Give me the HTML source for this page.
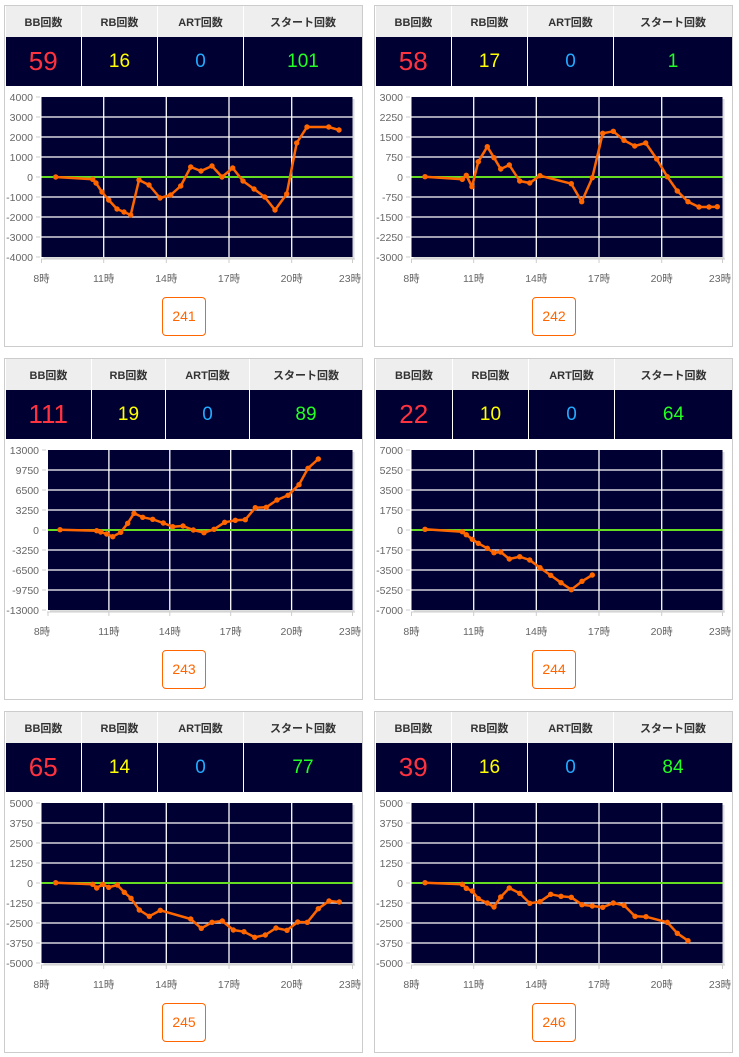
<!DOCTYPE html>
<html><head><meta charset="utf-8">
<style>
body{margin:0;background:#fff;width:739px;height:1057px;position:relative;overflow:hidden;font-family:"Liberation Sans","Noto Sans CJK JP",sans-serif}
.p{position:absolute;width:357px;height:340px;border:1px solid #ccc;background:#fff}
table{position:absolute;left:0;top:0;width:357px;border-collapse:collapse;table-layout:fixed}
td{text-align:center;padding:0;border-left:1px solid #fff}
td:first-child{border-left:none}
tr.h td{height:31px;background:#eeeeee;font-size:11px;font-weight:bold;color:#333;border-left:1px solid #fff}
tr.v td{height:49px;background:#000033;font-size:19px}
.r{color:#ff3340;font-size:26px!important}.y{color:#ffff00}.c{color:#22aaff}.g{color:#22ff22}
.b{position:absolute;left:157px;top:291px;width:42px;height:37px;border:1px solid #ff6600;border-radius:4px;color:#ff6600;font-size:14px;line-height:37px;text-align:center}
svg{position:absolute;left:0;top:0}
.yl{font-size:10.5px;fill:#666;text-anchor:end}
.xl{font-size:10.5px;fill:#666;text-anchor:middle}
.s{fill:none;stroke:#ff6600;stroke-width:2.5;stroke-linejoin:round}
</style></head><body>

<div class="p" style="left:4px;top:5px"><table><colgroup><col style="width:76px"><col style="width:76px"><col style="width:86px"><col></colgroup>
<tr class="h"><td>BB回数</td><td>RB回数</td><td>ART回数</td><td>スタート回数</td></tr>
<tr class="v"><td class="r">59</td><td class="y">16</td><td class="c">0</td><td class="g">101</td></tr></table><div class="b">241</div></div>

<div class="p" style="left:374px;top:5px"><table><colgroup><col style="width:76px"><col style="width:76px"><col style="width:86px"><col></colgroup>
<tr class="h"><td>BB回数</td><td>RB回数</td><td>ART回数</td><td>スタート回数</td></tr>
<tr class="v"><td class="r">58</td><td class="y">17</td><td class="c">0</td><td class="g">1</td></tr></table><div class="b">242</div></div>

<div class="p" style="left:4px;top:358px"><table><colgroup><col style="width:86px"><col style="width:74px"><col style="width:84px"><col></colgroup>
<tr class="h"><td>BB回数</td><td>RB回数</td><td>ART回数</td><td>スタート回数</td></tr>
<tr class="v"><td class="r">111</td><td class="y">19</td><td class="c">0</td><td class="g">89</td></tr></table><div class="b">243</div></div>

<div class="p" style="left:374px;top:358px"><table><colgroup><col style="width:77px"><col style="width:76px"><col style="width:86px"><col></colgroup>
<tr class="h"><td>BB回数</td><td>RB回数</td><td>ART回数</td><td>スタート回数</td></tr>
<tr class="v"><td class="r">22</td><td class="y">10</td><td class="c">0</td><td class="g">64</td></tr></table><div class="b">244</div></div>

<div class="p" style="left:4px;top:711px"><table><colgroup><col style="width:76px"><col style="width:76px"><col style="width:86px"><col></colgroup>
<tr class="h"><td>BB回数</td><td>RB回数</td><td>ART回数</td><td>スタート回数</td></tr>
<tr class="v"><td class="r">65</td><td class="y">14</td><td class="c">0</td><td class="g">77</td></tr></table><div class="b">245</div></div>

<div class="p" style="left:374px;top:711px"><table><colgroup><col style="width:76px"><col style="width:76px"><col style="width:86px"><col></colgroup>
<tr class="h"><td>BB回数</td><td>RB回数</td><td>ART回数</td><td>スタート回数</td></tr>
<tr class="v"><td class="r">39</td><td class="y">16</td><td class="c">0</td><td class="g">84</td></tr></table><div class="b">246</div></div>

<svg width="739" height="1057" viewBox="0 0 739 1057">
<defs>
<g id="grid">
<rect x="43.5" y="99" width="311" height="160" fill="#ddd"/>
<rect x="41.5" y="97" width="311" height="160" fill="#000033"/>
<g stroke="#fff" stroke-width="1.3">
<line x1="41.5" x2="352.5" y1="117" y2="117"/><line x1="41.5" x2="352.5" y1="137" y2="137"/><line x1="41.5" x2="352.5" y1="157" y2="157"/><line x1="41.5" x2="352.5" y1="197" y2="197"/><line x1="41.5" x2="352.5" y1="217" y2="217"/><line x1="41.5" x2="352.5" y1="237" y2="237"/>
<line x1="103.7" x2="103.7" y1="97" y2="257"/><line x1="166.3" x2="166.3" y1="97" y2="257"/><line x1="229" x2="229" y1="97" y2="257"/><line x1="291.7" x2="291.7" y1="97" y2="257"/>
</g>
<line x1="41.5" x2="352.5" y1="177" y2="177" stroke="#66dd22" stroke-width="2"/>
<g stroke="#ccc" stroke-width="1"><line x1="41" x2="355" y1="259" y2="259"/>
<line x1="41.5" x2="41.5" y1="259" y2="263"/><line x1="103.7" x2="103.7" y1="259" y2="263"/><line x1="166.3" x2="166.3" y1="259" y2="263"/><line x1="229" x2="229" y1="259" y2="263"/><line x1="291.7" x2="291.7" y1="259" y2="263"/><line x1="352.5" x2="352.5" y1="259" y2="263"/>
<line x1="36" x2="40" y1="97" y2="97"/><line x1="36" x2="40" y1="117" y2="117"/><line x1="36" x2="40" y1="137" y2="137"/><line x1="36" x2="40" y1="157" y2="157"/><line x1="36" x2="40" y1="177" y2="177"/><line x1="36" x2="40" y1="197" y2="197"/><line x1="36" x2="40" y1="217" y2="217"/><line x1="36" x2="40" y1="237" y2="237"/><line x1="36" x2="40" y1="257" y2="257"/></g>
</g>
<g id="grid3">
<rect x="50" y="99" width="304.5" height="160" fill="#ddd"/>
<rect x="48" y="97" width="304.5" height="160" fill="#000033"/>
<g stroke="#fff" stroke-width="1.3">
<line x1="48" x2="352.5" y1="117" y2="117"/><line x1="48" x2="352.5" y1="137" y2="137"/><line x1="48" x2="352.5" y1="157" y2="157"/><line x1="48" x2="352.5" y1="197" y2="197"/><line x1="48" x2="352.5" y1="217" y2="217"/><line x1="48" x2="352.5" y1="237" y2="237"/>
<line x1="108.9" x2="108.9" y1="97" y2="257"/><line x1="169.8" x2="169.8" y1="97" y2="257"/><line x1="230.7" x2="230.7" y1="97" y2="257"/><line x1="291.6" x2="291.6" y1="97" y2="257"/>
</g>
<line x1="48" x2="352.5" y1="177" y2="177" stroke="#66dd22" stroke-width="2"/>
<g stroke="#ccc" stroke-width="1"><line x1="47" x2="355" y1="259" y2="259"/>
<line x1="48" x2="48" y1="259" y2="263"/><line x1="108.9" x2="108.9" y1="259" y2="263"/><line x1="169.8" x2="169.8" y1="259" y2="263"/><line x1="230.7" x2="230.7" y1="259" y2="263"/><line x1="291.6" x2="291.6" y1="259" y2="263"/><line x1="352.5" x2="352.5" y1="259" y2="263"/></g>
</g>
</defs>

<!-- P1 -->
<g>
<use href="#grid"/>
<text class="yl" x="33" y="101">4000</text><text class="yl" x="33" y="121">3000</text><text class="yl" x="33" y="141">2000</text><text class="yl" x="33" y="161">1000</text><text class="yl" x="33" y="181">0</text><text class="yl" x="33" y="201">-1000</text><text class="yl" x="33" y="221">-2000</text><text class="yl" x="33" y="241">-3000</text><text class="yl" x="33" y="261">-4000</text>
<text class="xl" x="41.5" y="282">8時</text><text class="xl" x="103.7" y="282">11時</text><text class="xl" x="166.3" y="282">14時</text><text class="xl" x="229" y="282">17時</text><text class="xl" x="291.7" y="282">20時</text><text class="xl" x="350" y="282">23時</text>
<polyline class="s" points="55.7,177 92.7,179.3 96,183 102,192 108.7,200 117,209 124,212 130.7,215 139,180 149,185 160,198 170.7,195 180.7,186 190.7,167 201,171 212,166 222,177 232.7,168 243,181 254,189 264.7,197 275,210 286.7,194 296.7,143 307,127 328.7,127 339,130"/>
<g fill="#ff6600"><circle cx="55.7" cy="177" r="2.7"/><circle cx="92.7" cy="179.3" r="2.7"/><circle cx="96" cy="183" r="2.7"/><circle cx="102" cy="192" r="2.7"/><circle cx="108.7" cy="200" r="2.7"/><circle cx="117" cy="209" r="2.7"/><circle cx="124" cy="212" r="2.7"/><circle cx="130.7" cy="215" r="2.7"/><circle cx="139" cy="180" r="2.7"/><circle cx="149" cy="185" r="2.7"/><circle cx="160" cy="198" r="2.7"/><circle cx="170.7" cy="195" r="2.7"/><circle cx="180.7" cy="186" r="2.7"/><circle cx="190.7" cy="167" r="2.7"/><circle cx="201" cy="171" r="2.7"/><circle cx="212" cy="166" r="2.7"/><circle cx="222" cy="177" r="2.7"/><circle cx="232.7" cy="168" r="2.7"/><circle cx="243" cy="181" r="2.7"/><circle cx="254" cy="189" r="2.7"/><circle cx="264.7" cy="197" r="2.7"/><circle cx="275" cy="210" r="2.7"/><circle cx="286.7" cy="194" r="2.7"/><circle cx="296.7" cy="143" r="2.7"/><circle cx="307" cy="127" r="2.7"/><circle cx="328.7" cy="127" r="2.7"/><circle cx="339" cy="130" r="2.7"/></g>
</g>

<!-- P2 -->
<g transform="translate(370,0)">
<use href="#grid"/>
<text class="yl" x="33" y="101">3000</text><text class="yl" x="33" y="121">2250</text><text class="yl" x="33" y="141">1500</text><text class="yl" x="33" y="161">750</text><text class="yl" x="33" y="181">0</text><text class="yl" x="33" y="201">-750</text><text class="yl" x="33" y="221">-1500</text><text class="yl" x="33" y="241">-2250</text><text class="yl" x="33" y="261">-3000</text>
<text class="xl" x="41.5" y="282">8時</text><text class="xl" x="103.7" y="282">11時</text><text class="xl" x="166.3" y="282">14時</text><text class="xl" x="229" y="282">17時</text><text class="xl" x="291.7" y="282">20時</text><text class="xl" x="350" y="282">23時</text>
<polyline class="s" points="55,176.7 92.3,179.3 96.3,175.3 102,186.7 108.3,161.7 117.3,146.7 124,157.7 130.7,169 139.3,165 149.7,181 159.7,183 170,175.7 201.3,183.7 211.7,201.7 222.3,177.7 232.7,133.3 243.3,131.3 254,140.3 264.7,146 275.7,143 286.7,159 297.3,176.7 307.3,191 318,201.7 329,207 339,207 347.3,206.7"/>
<g fill="#ff6600"><circle cx="55" cy="176.7" r="2.7"/><circle cx="92.3" cy="179.3" r="2.7"/><circle cx="96.3" cy="175.3" r="2.7"/><circle cx="102" cy="186.7" r="2.7"/><circle cx="108.3" cy="161.7" r="2.7"/><circle cx="117.3" cy="146.7" r="2.7"/><circle cx="124" cy="157.7" r="2.7"/><circle cx="130.7" cy="169" r="2.7"/><circle cx="139.3" cy="165" r="2.7"/><circle cx="149.7" cy="181" r="2.7"/><circle cx="159.7" cy="183" r="2.7"/><circle cx="170" cy="175.7" r="2.7"/><circle cx="201.3" cy="183.7" r="2.7"/><circle cx="211.7" cy="201.7" r="2.7"/><circle cx="222.3" cy="177.7" r="2.7"/><circle cx="232.7" cy="133.3" r="2.7"/><circle cx="243.3" cy="131.3" r="2.7"/><circle cx="254" cy="140.3" r="2.7"/><circle cx="264.7" cy="146" r="2.7"/><circle cx="275.7" cy="143" r="2.7"/><circle cx="286.7" cy="159" r="2.7"/><circle cx="297.3" cy="176.7" r="2.7"/><circle cx="307.3" cy="191" r="2.7"/><circle cx="318" cy="201.7" r="2.7"/><circle cx="329" cy="207" r="2.7"/><circle cx="339" cy="207" r="2.7"/><circle cx="347.3" cy="206.7" r="2.7"/></g>
</g>

<!-- P3 -->
<g transform="translate(0,353)">
<use href="#grid3"/>
<g stroke="#ccc"><line x1="42" x2="46" y1="97" y2="97"/><line x1="42" x2="46" y1="117" y2="117"/><line x1="42" x2="46" y1="137" y2="137"/><line x1="42" x2="46" y1="157" y2="157"/><line x1="42" x2="46" y1="177" y2="177"/><line x1="42" x2="46" y1="197" y2="197"/><line x1="42" x2="46" y1="217" y2="217"/><line x1="42" x2="46" y1="237" y2="237"/><line x1="42" x2="46" y1="257" y2="257"/></g>
<text class="yl" x="39" y="101">13000</text><text class="yl" x="39" y="121">9750</text><text class="yl" x="39" y="141">6500</text><text class="yl" x="39" y="161">3250</text><text class="yl" x="39" y="181">0</text><text class="yl" x="39" y="201">-3250</text><text class="yl" x="39" y="221">-6500</text><text class="yl" x="39" y="241">-9750</text><text class="yl" x="39" y="261">-13000</text>
<text class="xl" x="42" y="282">8時</text><text class="xl" x="108.9" y="282">11時</text><text class="xl" x="169.8" y="282">14時</text><text class="xl" x="230.7" y="282">17時</text><text class="xl" x="291.6" y="282">20時</text><text class="xl" x="350" y="282">23時</text>
<polyline class="s" points="60,176.7 96.7,177.7 100.7,179 106.7,181 112.7,183.7 120.7,179.3 127.7,170.3 134,160.3 142.7,164.3 152.7,166.3 163.3,170 172.7,173.7 183,173 193.3,177 204,179.7 214,176.3 224.7,169.3 235.3,167.3 245.3,166.7 255.3,154.7 266.3,154.3 277,147 288,142.3 299,131.7 308,115.3 318.3,106"/>
<g fill="#ff6600"><circle cx="60" cy="176.7" r="2.7"/><circle cx="96.7" cy="177.7" r="2.7"/><circle cx="100.7" cy="179" r="2.7"/><circle cx="106.7" cy="181" r="2.7"/><circle cx="112.7" cy="183.7" r="2.7"/><circle cx="120.7" cy="179.3" r="2.7"/><circle cx="127.7" cy="170.3" r="2.7"/><circle cx="134" cy="160.3" r="2.7"/><circle cx="142.7" cy="164.3" r="2.7"/><circle cx="152.7" cy="166.3" r="2.7"/><circle cx="163.3" cy="170" r="2.7"/><circle cx="172.7" cy="173.7" r="2.7"/><circle cx="183" cy="173" r="2.7"/><circle cx="193.3" cy="177" r="2.7"/><circle cx="204" cy="179.7" r="2.7"/><circle cx="214" cy="176.3" r="2.7"/><circle cx="224.7" cy="169.3" r="2.7"/><circle cx="235.3" cy="167.3" r="2.7"/><circle cx="245.3" cy="166.7" r="2.7"/><circle cx="255.3" cy="154.7" r="2.7"/><circle cx="266.3" cy="154.3" r="2.7"/><circle cx="277" cy="147" r="2.7"/><circle cx="288" cy="142.3" r="2.7"/><circle cx="299" cy="131.7" r="2.7"/><circle cx="308" cy="115.3" r="2.7"/><circle cx="318.3" cy="106" r="2.7"/></g>
</g>

<!-- P4 -->
<g transform="translate(370,353)">
<use href="#grid"/>
<text class="yl" x="33" y="101">7000</text><text class="yl" x="33" y="121">5250</text><text class="yl" x="33" y="141">3500</text><text class="yl" x="33" y="161">1750</text><text class="yl" x="33" y="181">0</text><text class="yl" x="33" y="201">-1750</text><text class="yl" x="33" y="221">-3500</text><text class="yl" x="33" y="241">-5250</text><text class="yl" x="33" y="261">-7000</text>
<text class="xl" x="41.5" y="282">8時</text><text class="xl" x="103.7" y="282">11時</text><text class="xl" x="166.3" y="282">14時</text><text class="xl" x="229" y="282">17時</text><text class="xl" x="291.7" y="282">20時</text><text class="xl" x="350" y="282">23時</text>
<polyline class="s" points="55,176.3 92.3,178.7 96.3,181.7 102.3,186.3 108.3,190.3 117.3,195.3 124,199.7 130.7,199 139.3,206 149.7,203.7 159.7,207 170,214.7 180.7,222.3 191,229.7 201.3,236.7 212,228.3 222.3,222"/>
<g fill="#ff6600"><circle cx="55" cy="176.3" r="2.7"/><circle cx="92.3" cy="178.7" r="2.7"/><circle cx="96.3" cy="181.7" r="2.7"/><circle cx="102.3" cy="186.3" r="2.7"/><circle cx="108.3" cy="190.3" r="2.7"/><circle cx="117.3" cy="195.3" r="2.7"/><circle cx="124" cy="199.7" r="2.7"/><circle cx="130.7" cy="199" r="2.7"/><circle cx="139.3" cy="206" r="2.7"/><circle cx="149.7" cy="203.7" r="2.7"/><circle cx="159.7" cy="207" r="2.7"/><circle cx="170" cy="214.7" r="2.7"/><circle cx="180.7" cy="222.3" r="2.7"/><circle cx="191" cy="229.7" r="2.7"/><circle cx="201.3" cy="236.7" r="2.7"/><circle cx="212" cy="228.3" r="2.7"/><circle cx="222.3" cy="222" r="2.7"/></g>
</g>

<!-- P5 -->
<g transform="translate(0,706)">
<use href="#grid"/>
<text class="yl" x="33" y="101">5000</text><text class="yl" x="33" y="121">3750</text><text class="yl" x="33" y="141">2500</text><text class="yl" x="33" y="161">1250</text><text class="yl" x="33" y="181">0</text><text class="yl" x="33" y="201">-1250</text><text class="yl" x="33" y="221">-2500</text><text class="yl" x="33" y="241">-3750</text><text class="yl" x="33" y="261">-5000</text>
<text class="xl" x="41.5" y="282">8時</text><text class="xl" x="103.7" y="282">11時</text><text class="xl" x="166.3" y="282">14時</text><text class="xl" x="229" y="282">17時</text><text class="xl" x="291.7" y="282">20時</text><text class="xl" x="350" y="282">23時</text>
<polyline class="s" points="55.7,176.7 92.7,178.3 96.7,182 102.7,178.3 108.7,181.3 117.3,179 124.3,186.3 131,192.3 139.3,204 149.3,210.3 160.3,204.3 190.7,213 201.3,222.3 212,216.3 222.3,215 233.3,224 244,225.7 254.7,231.3 265.3,229 276,222 287,224.3 297.7,216 307.3,216.3 318.3,202.7 329,195 339.3,196"/>
<g fill="#ff6600"><circle cx="55.7" cy="176.7" r="2.7"/><circle cx="92.7" cy="178.3" r="2.7"/><circle cx="96.7" cy="182" r="2.7"/><circle cx="102.7" cy="178.3" r="2.7"/><circle cx="108.7" cy="181.3" r="2.7"/><circle cx="117.3" cy="179" r="2.7"/><circle cx="124.3" cy="186.3" r="2.7"/><circle cx="131" cy="192.3" r="2.7"/><circle cx="139.3" cy="204" r="2.7"/><circle cx="149.3" cy="210.3" r="2.7"/><circle cx="160.3" cy="204.3" r="2.7"/><circle cx="190.7" cy="213" r="2.7"/><circle cx="201.3" cy="222.3" r="2.7"/><circle cx="212" cy="216.3" r="2.7"/><circle cx="222.3" cy="215" r="2.7"/><circle cx="233.3" cy="224" r="2.7"/><circle cx="244" cy="225.7" r="2.7"/><circle cx="254.7" cy="231.3" r="2.7"/><circle cx="265.3" cy="229" r="2.7"/><circle cx="276" cy="222" r="2.7"/><circle cx="287" cy="224.3" r="2.7"/><circle cx="297.7" cy="216" r="2.7"/><circle cx="307.3" cy="216.3" r="2.7"/><circle cx="318.3" cy="202.7" r="2.7"/><circle cx="329" cy="195" r="2.7"/><circle cx="339.3" cy="196" r="2.7"/></g>
</g>

<!-- P6 -->
<g transform="translate(370,706)">
<use href="#grid"/>
<text class="yl" x="33" y="101">5000</text><text class="yl" x="33" y="121">3750</text><text class="yl" x="33" y="141">2500</text><text class="yl" x="33" y="161">1250</text><text class="yl" x="33" y="181">0</text><text class="yl" x="33" y="201">-1250</text><text class="yl" x="33" y="221">-2500</text><text class="yl" x="33" y="241">-3750</text><text class="yl" x="33" y="261">-5000</text>
<text class="xl" x="41.5" y="282">8時</text><text class="xl" x="103.7" y="282">11時</text><text class="xl" x="166.3" y="282">14時</text><text class="xl" x="229" y="282">17時</text><text class="xl" x="291.7" y="282">20時</text><text class="xl" x="350" y="282">23時</text>
<polyline class="s" points="55,176.7 92.3,178.3 96.3,182.3 102.3,185 108.3,192.7 117.3,197 124,201 130.7,191 139.3,182 149.7,187.3 159.7,197.3 170,195.7 180.7,188.3 191,190.3 201.3,191.3 212,198.7 222.3,200 232.7,201.3 243.3,197 254,199.3 265,210.3 276,210.7 297.3,216.3 307.3,227.3 318,234.7"/>
<g fill="#ff6600"><circle cx="55" cy="176.7" r="2.7"/><circle cx="92.3" cy="178.3" r="2.7"/><circle cx="96.3" cy="182.3" r="2.7"/><circle cx="102.3" cy="185" r="2.7"/><circle cx="108.3" cy="192.7" r="2.7"/><circle cx="117.3" cy="197" r="2.7"/><circle cx="124" cy="201" r="2.7"/><circle cx="130.7" cy="191" r="2.7"/><circle cx="139.3" cy="182" r="2.7"/><circle cx="149.7" cy="187.3" r="2.7"/><circle cx="159.7" cy="197.3" r="2.7"/><circle cx="170" cy="195.7" r="2.7"/><circle cx="180.7" cy="188.3" r="2.7"/><circle cx="191" cy="190.3" r="2.7"/><circle cx="201.3" cy="191.3" r="2.7"/><circle cx="212" cy="198.7" r="2.7"/><circle cx="222.3" cy="200" r="2.7"/><circle cx="232.7" cy="201.3" r="2.7"/><circle cx="243.3" cy="197" r="2.7"/><circle cx="254" cy="199.3" r="2.7"/><circle cx="265" cy="210.3" r="2.7"/><circle cx="276" cy="210.7" r="2.7"/><circle cx="297.3" cy="216.3" r="2.7"/><circle cx="307.3" cy="227.3" r="2.7"/><circle cx="318" cy="234.7" r="2.7"/></g>
</g>
</svg>
</body></html>
